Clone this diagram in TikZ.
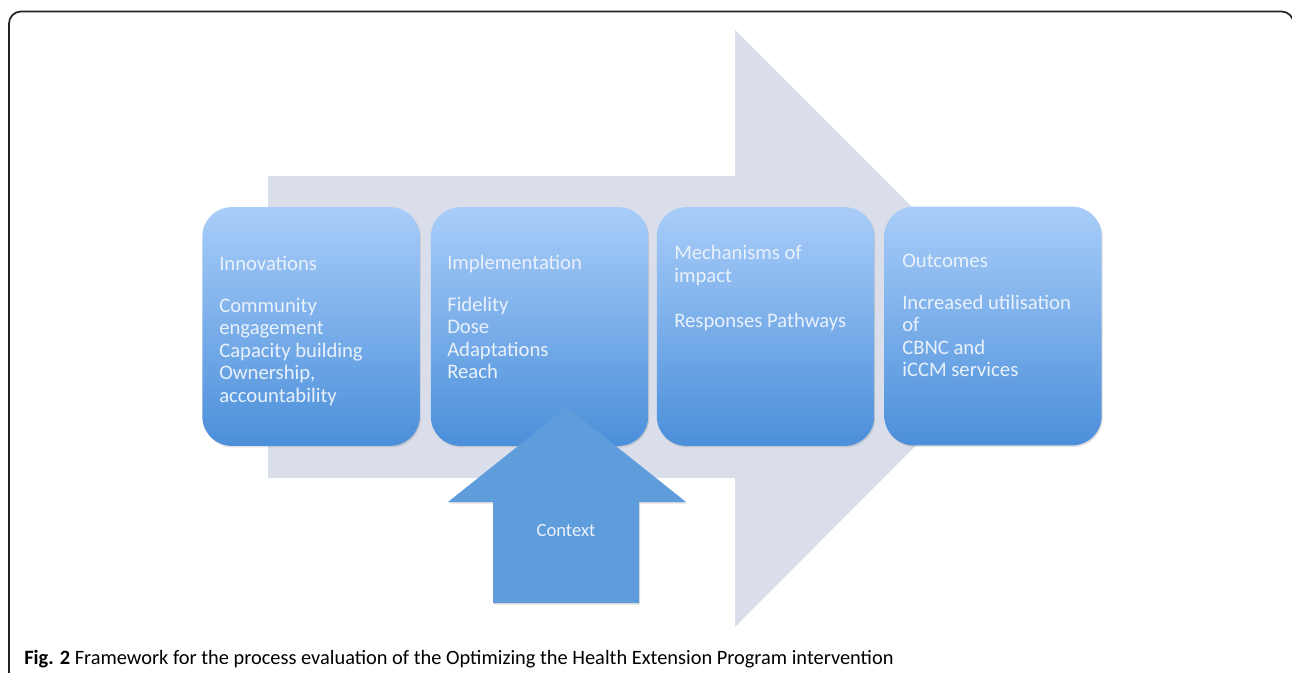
\documentclass[tikz,border=0pt]{standalone}
\usepackage{fontspec}
\setmainfont{Carlito}
\usetikzlibrary{shadows}
\definecolor{bgarrow}{HTML}{D9DEEA}
\definecolor{boxtop}{HTML}{A9CDF9}
\definecolor{boxbot}{HTML}{4B8FDA}
\definecolor{ctxblue}{HTML}{5F9CDC}
\definecolor{boxtext}{HTML}{E9F1FB}
\definecolor{framecol}{HTML}{222222}
\tikzset{
  framestyle/.style={draw=framecol, line width=1.3pt, rounded corners=9pt},
  stagebox/.style={rounded corners=22pt, minimum width=163pt, minimum height=179pt,
    top color=boxtop, bottom color=boxbot, inner sep=0pt,
    drop shadow={shadow xshift=0.8pt, shadow yshift=-1.2pt, opacity=0.25}},
  boxlabel/.style={anchor=north west, inner sep=0pt, align=left, text=boxtext,
    font=\fontsize{15.5pt}{16.9pt}\selectfont},
  caption/.style={anchor=base west, inner sep=0pt, text=black}
}
\begin{document}
\begin{tikzpicture}[x=0.75pt,y=-0.75pt]
\useasboundingbox (0,0) rectangle (1292,672);
% frame
\draw[framestyle] (9,700) -- (9,11.5) -- (1293.5,11.5) -- (1293.5,700);
% big background arrow
\fill[bgarrow] (268,176) -- (735,176) -- (735,30) -- (1033,328) -- (735,627) -- (735,478) -- (268,478) -- cycle;
% stage boxes
\node[stagebox] (innov) at (311,326.5) {};
\node[stagebox] (impl) at (539.5,326.5) {};
\node[stagebox] (mech) at (765.5,326.5) {};
\node[stagebox] (outc) at (993,326) {};
% labels
\node[boxlabel] (innovtxt) at (219,255.5) {Innovations\\[14.6pt]Community\\engagement\\Capacity building\\Ownership,\\accountability};
\node[boxlabel] (impltxt) at (447,254.5) {Implementation\\[14.6pt]Fidelity\\Dose\\Adaptations\\Reach};
\node[boxlabel] (mechtxt) at (674,245) {Mechanisms of\\impact\\[16.9pt]Responses Pathways};
\node[boxlabel] (outctxt) at (902,253.5) {Outcomes\\[14.6pt]Increased utilisation\\of\\CBNC and\\iCCM services};
% context arrow
\fill[ctxblue, drop shadow={shadow xshift=0.8pt, shadow yshift=-1.2pt, opacity=0.25}]
  (567,407) -- (686,502) -- (639,502) -- (639,603) -- (493,603) -- (493,502) -- (448,502) -- cycle;
\node[text=boxtext, font=\fontsize{14pt}{16pt}\selectfont] (context) at (566,531) {Context};
% caption
\node[caption] (cap) at (24,664) {\resizebox{652pt}{!}{\fontsize{14pt}{16pt}\selectfont\textbf{Fig. 2} Framework for the process evaluation of the Optimizing the Health Extension Program intervention}};
\end{tikzpicture}
\end{document}
